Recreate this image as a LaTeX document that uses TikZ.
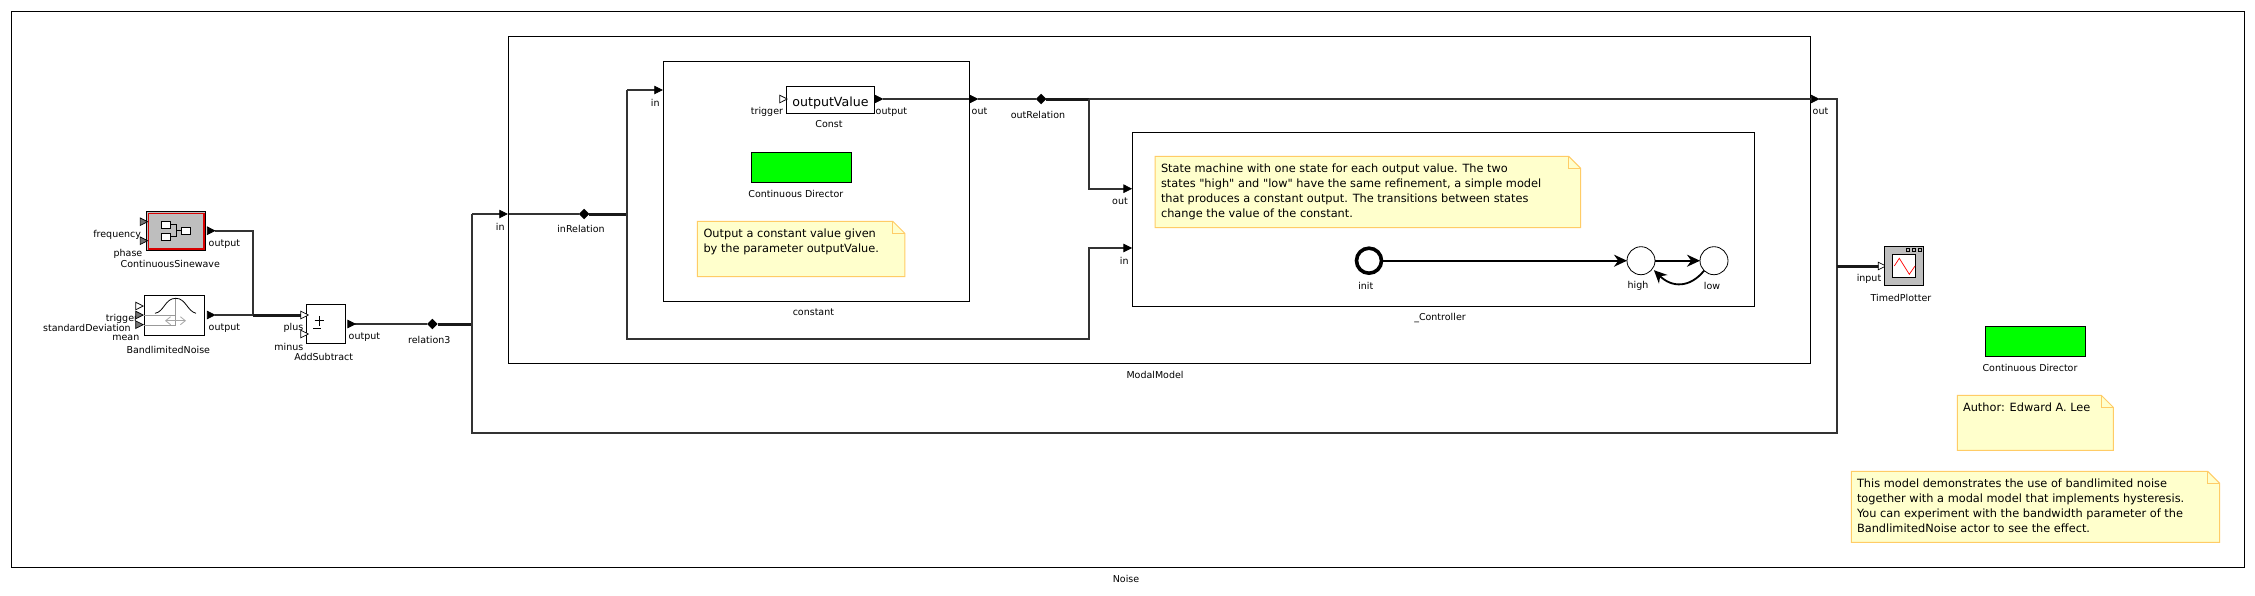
\documentclass[tikz,border=0pt]{standalone}
\usepackage{fontspec}
\newfontfamily\labelfont{DejaVu Sans}
\usetikzlibrary{arrows.meta, shapes.geometric}
\definecolor{notefill}{RGB}{255,255,204}
\definecolor{noteline}{RGB}{255,204,102}
\definecolor{iconfill}{RGB}{190,190,190}
\tikzset{
  every picture/.style={x=1pt,y=-1pt,line join=miter},
  every node/.style={outer sep=0pt},
  boxlabel/.style={inner sep=0pt,font=\labelfont\fontsize{9.5}{11}\selectfont},
  lblr/.style={boxlabel,anchor=east},
  lbll/.style={boxlabel,anchor=west},
  notetext/.style={inner sep=0pt,anchor=north west,align=left,font=\labelfont\fontsize{11.35}{15}\selectfont},
  frame/.style={draw=black,line width=1pt,fill=white,inner sep=0pt,anchor=north west},
  block/.style={draw=black,line width=1pt,fill=white,inner sep=0pt,anchor=north west},
  director/.style={draw=black,line width=1.1pt,fill=green,inner sep=0pt,anchor=north west,minimum width=100pt,minimum height=30pt},
  wire/.style={draw=black!80,line width=2pt},
  hwire/.style={draw=black!90,line width=3pt},
  relation/.style={diamond,fill=black,inner sep=0pt,minimum size=10.5pt},
  state/.style={circle,draw=black,line width=.8pt,fill=white,inner sep=0pt,minimum size=28pt},
  trans/.style={draw=black,line width=1.8pt,-{Stealth[length=13pt,width=12pt]}},
  stickynote/.style={draw=noteline,line width=1pt,fill=notefill},
}
% port triangle: position, colour
\newcommand{\portmark}[3]{\fill[fill=#3,draw=black,line width=.7pt] (#1-3.7,#2-3.8) -- (#1+3.8,#2) -- (#1-3.7,#2+3.8) -- cycle;}
\newcommand{\notebox}[4]{%
  \draw[stickynote] (#1,#2) -- (#3-12,#2) -- (#3,#2+12) -- (#3,#4) -- (#1,#4) -- cycle;
  \draw[noteline,line width=1pt] (#3-12,#2) -- (#3-12,#2+12) -- (#3,#2+12);}
\begin{document}
\begin{tikzpicture}
  \useasboundingbox (0,0) rectangle (2255,595);
  \fill[white] (0,0) rectangle (2255,595);

  % frames
  \node[frame,minimum width=2233pt,minimum height=556pt] (noise) at (11.5,11.5) {};
  \node[boxlabel] (noisel) at (1126,578.5) {Noise};
  \node[frame,minimum width=1302pt,minimum height=327pt] (modal) at (508.5,36.5) {};
  \node[boxlabel] (modall) at (1155,374.7) {ModalModel};
  \node[frame,minimum width=306pt,minimum height=240pt] (constant) at (663.5,61.5) {};
  \node[boxlabel] (constantl) at (813.4,312.7) {constant};
  \node[frame,minimum width=622pt,minimum height=174pt] (ctrl) at (1132.5,132.5) {};
  \node[boxlabel] (ctrll) at (1440,317.7) {\_Controller};

  % left actors
  \node[draw=black,line width=1pt,fill=iconfill,minimum width=59pt,minimum height=39pt,inner sep=0pt,anchor=north west] (sine) at (146.5,211.5) {};
  \draw[red!85!black,line width=1.6pt] (148.3,213.3) rectangle (203.7,248.7);
  \draw[line width=.8pt] (170.7,224.8) -- (176,224.8) -- (176,236.8) -- (170.7,236.8) (176,230.8) -- (181.3,230.8);
  \foreach \xa/\ya/\xb/\yb in {161/221.3/170.7/228.3, 161/233.3/170.7/240.3, 181.3/227.3/190.7/234.3}
    \draw[fill=white,line width=.8pt] (\xa,\ya) rectangle (\xb,\yb);
  \node[lblr] (freql) at (141,234.7) {frequency};
  \node[lblr] (phasel) at (142.3,253.7) {phase};
  \node[lbll] (sineo) at (208.7,243.7) {output};
  \node[boxlabel] (sinel) at (170.3,263.7) {ContinuousSinewave};

  \node[lblr] (trigl) at (138,318.7) {trigger};
  \node[lblr] (stdl) at (130.7,327.7) {standardDeviation};
  \node[lblr] (meanl) at (139.3,337.7) {mean};
  \node[block,minimum width=60pt,minimum height=40pt] (noiseact) at (144.5,295.5) {};
  \draw[black!40,line width=.8pt] (144.3,315.3) -- (175.7,315.3) (144.3,325) -- (175.7,325) (175.7,298.3) -- (175.7,325);
  \draw[black!35,line width=.8pt,{Straight Barb[length=5pt,width=8pt]}-{Straight Barb[length=5pt,width=8pt]}] (165,320.7) -- (186,320.7);
  \draw[black,line width=.8pt] (155,313.3) .. controls (164,312) and (165,298.3) .. (175.7,298.3) .. controls (186,298.3) and (187,311) .. (196,313.3);
  \node[lbll] (noiseo) at (208.7,327.7) {output};
  \node[boxlabel] (noisea) at (168.3,349.7) {BandlimitedNoise};

  \node[lblr] (plusl) at (303.3,328) {plus};
  \node[lblr] (minusl) at (303.3,346.7) {minus};
  \node[block,minimum width=39pt,minimum height=39pt] (add) at (306.5,304.5) {};
  \draw[line width=.7pt] (314.5,320.7) -- (324,320.7) (319.3,315.8) -- (319.3,325.6) (313,328) -- (321,328);
  \node[lbll] (addo) at (348.7,336.7) {output};
  \node[boxlabel] (addl) at (323.7,356.7) {AddSubtract};

  % coordinates of the ports
  \coordinate (sineout) at (215,230.7);
  \coordinate (noiseout) at (215,315);
  \coordinate (plusin) at (301,315);
  \coordinate (addout) at (355,324);
  \coordinate (v1) at (253.3,230.7);
  \coordinate (v2) at (253.3,315);
  \coordinate (v3) at (472.3,324);
  \coordinate (v3t) at (472.3,214);
  \coordinate (v3b) at (472.3,433.3);
  \coordinate (modalin) at (500,214);
  \coordinate (inner) at (508.5,214);
  \coordinate (v4) at (627.4,214);
  \coordinate (v4t) at (627.4,90);
  \coordinate (v4b) at (627.4,339.3);
  \coordinate (constin) at (655,90);
  \coordinate (v5b) at (1088.5,339.3);
  \coordinate (v5c) at (1088.5,248);
  \coordinate (ctrlin) at (1124,248);
  \coordinate (constout) at (978,99);
  \coordinate (v6) at (1088.5,99);
  \coordinate (v6b) at (1088.5,188.7);
  \coordinate (ctrlout) at (1124,188.7);
  \coordinate (modalout) at (1811,99);
  \coordinate (modalport) at (1819,99);
  \coordinate (v7t) at (1836.7,99);
  \coordinate (v7b) at (1836.7,433.3);
  \coordinate (v7) at (1836.7,266);
  \coordinate (plotin) at (1879,266);
  \coordinate (constiout) at (882.7,99);
  \coordinate (constoutin) at (969,99);

  % relations
  \node[relation] (rel3) at (432.3,324) {};
  \node[boxlabel] (rel3l) at (429.3,339.7) {relation3};
  \node[relation] (inrel) at (584,214) {};
  \node[boxlabel] (inrell) at (581,229.3) {inRelation};
  \node[relation] (outrel) at (1041,99) {};
  \node[boxlabel] (outrell) at (1038,114.7) {outRelation};

  % wires
  \draw[wire] (sineout) -- (v1) -- (v2);
  \draw[wire] (noiseout) -- (v2);
  \draw[hwire] (v2) -- (plusin);
  \draw[wire] (addout) -- (rel3);
  \draw[hwire] (rel3) -- (v3);
  \draw[wire] (v3t) -- (modalin);
  \draw[wire] (v3t) -- (v3b) -- (v7b) -- (v7);
  \draw[wire] (inner) -- (inrel);
  \draw[hwire] (inrel) -- (v4);
  \draw[wire] (v4t) -- (v4b) -- (v5b) -- (v5c) -- (ctrlin);
  \draw[wire] (v4t) -- (constin);
  \draw[wire] (constiout) -- (constoutin);
  \draw[wire] (constout) -- (outrel);
  \draw[hwire] (outrel) -- (v6);
  \draw[wire] (v6) -- (v6b) -- (ctrlout);
  \draw[wire] (v6) -- (modalout);
  \draw[wire] (modalport) -- (v7t) -- (v7);
  \draw[hwire] (v7) -- (plotin);

  % inner Const
  \node[block,minimum width=88pt,minimum height=27pt,font=\labelfont\fontsize{12.6}{14}\selectfont] (const) at (786.5,86.5) {\raisebox{-6.7pt}[0pt][0pt]{outputValue}};
  \node[lblr] (trgl) at (783,111.7) {trigger};
  \node[lbll] (consto) at (875.7,111.7) {output};
  \node[boxlabel] (constl) at (829,124.3) {Const};

  % directors
  \node[director] (dir1) at (751.5,152.5) {};
  \node[boxlabel] (dir1l) at (795.8,193.7) {Continuous Director};
  \node[director] (dir2) at (1985.5,326.5) {};
  \node[boxlabel] (dir2l) at (2030,367.7) {Continuous Director};

  % ports
  \foreach \px/\py/\pc in {143.8/221.7/black!55, 143.8/240.7/black!55, 211/230.7/black,
      139.4/306/white, 139.4/315/black!55, 139.4/324.7/black!55, 211/315/black,
      304.5/315/white, 304.5/334/white, 351.5/324/black,
      503.3/214/black, 658.3/90/black, 783.4/99/white, 878.7/99/black,
      973.7/99/black, 1127.5/188.7/black, 1127.5/248/black, 1815/99/black, 1882/266/white}
    {\portmark{\px}{\py}{\pc}}

  % port labels of the frames
  \node[boxlabel] (modalinl) at (500.3,226.7) {in};
  \node[boxlabel] (modaloutl) at (1820.5,111.7) {out};
  \node[boxlabel] (constinl) at (655.3,102.7) {in};
  \node[boxlabel] (constoutl) at (979.5,111.7) {out};
  \node[boxlabel] (ctrloutl) at (1120,201.7) {out};
  \node[boxlabel] (ctrlinl) at (1124.3,260.7) {in};

  % plotter
  \node[draw=black,line width=.9pt,fill=iconfill,minimum width=39pt,minimum height=39pt,inner sep=0pt,anchor=north west] (plot) at (1884.5,246.5) {};
  \draw[fill=white,line width=.8pt] (1892.3,254.3) rectangle (1915.7,277.3);
  \draw[red,line width=.7pt] (1894.3,266) -- (1899.3,258.3) -- (1909.3,274.3) -- (1915,266);
  \foreach \sx in {1908,1914,1920}
    \draw[line width=.7pt] (\sx-1.5,248.8) rectangle (\sx+1.5,251.8);
  \node[boxlabel] (plotil) at (1869,278.7) {input};
  \node[boxlabel] (plotl) at (1901,298.3) {TimedPlotter};

  % states
  \node[state,line width=3.6pt,minimum size=25pt] (init) at (1369,260.7) {};
  \node[state] (high) at (1641,260.7) {};
  \node[state] (low) at (1714,260.7) {};
  \node[boxlabel] (initl) at (1365.8,285.7) {init};
  \node[boxlabel] (highl) at (1638,285.7) {high};
  \node[boxlabel] (lowl) at (1712,285.7) {low};
  \draw[trans] (init) -- (high);
  \draw[trans] (high) -- (low);
  \draw[trans,shorten >=2pt] (low.-135) .. controls (1690,288) and (1672,288) .. (high.-35);

  % notes
  \notebox{697.4}{221.3}{904.8}{276.7}
  \node[notetext] (note1) at (703.5,228.5) {Output a constant value given\\by the parameter outputValue.};
  \notebox{1155}{156.3}{1580.7}{227.7}
  \node[notetext] (note2) at (1161,163.5) {State machine with one state for each output value. The two\\states "high" and "low" have the same refinement, a simple model\\that produces a constant output. The transitions between states\\change the value of the constant.};
  \notebox{1957.3}{395.3}{2113.3}{450.3}
  \node[notetext] (note3) at (1963,402.5) {Author: Edward A. Lee};
  \notebox{1851.3}{471.3}{2219.7}{542.3}
  \node[notetext] (note4) at (1857,478.5) {This model demonstrates the use of bandlimited noise\\together with a modal model that implements hysteresis.\\You can experiment with the bandwidth parameter of the\\BandlimitedNoise actor to see the effect.};
\end{tikzpicture}
\end{document}
